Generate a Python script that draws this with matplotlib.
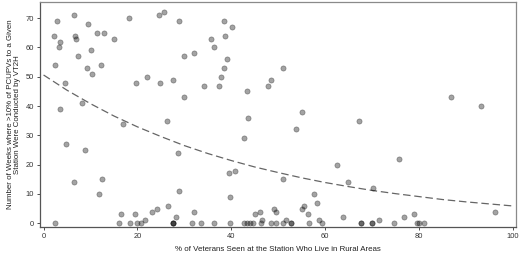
import matplotlib.pyplot as plt

# percent of veterans in rural areas (x) and weeks with >10% VT2H visits (y)
rural_pct = [
    2.3, 2.8, 3.6, 3.3, 2.4, 4.6, 3.4, 6.5, 6.6, 7.0, 7.4, 8.1, 9.5, 10.1, 9.3,
    10.3, 11.4, 12.9, 12.2, 14.9, 16.9, 18.1, 19.6, 22.0, 24.5, 25.7, 24.7, 27.5,
    26.4, 28.9, 38.4, 40.2, 38.7, 35.7, 36.3, 29.9, 32.0, 39.0, 38.4, 37.9, 34.1,
    37.3, 50.9, 48.4, 47.8, 43.3, 29.9, 55.1, 43.5, 53.7, 67.2, 86.7, 93.1,
    4.8, 8.8, 6.5, 12.5, 11.8, 28.6, 42.8, 28.8, 39.4, 40.8, 39.7, 50.9, 62.4,
    64.9, 70.2, 75.7, 57.5, 58.3, 96.2,
    55.5, 55.1, 56.3, 58.7, 59.3, 56.5, 63.7, 2.4, 16.0, 16.4, 18.5, 19.4, 19.8,
    20.8, 21.6, 23.2, 24.1, 26.5, 28.2, 27.6, 27.6, 27.6, 31.7, 32.1, 33.5, 36.3,
    39.7, 42.8, 43.4, 44.0, 44.6, 45.0, 46.2, 46.5, 46.3, 48.5, 49.0, 49.5, 49.5,
    51.0, 51.6, 52.7, 52.7, 67.7, 67.7, 69.9, 69.9, 71.5, 74.6, 76.8, 79.0, 79.6,
    80.0, 81.0,
]
weeks = [
    64, 69, 62, 60, 54, 48, 39, 71, 64, 63, 57, 41, 68, 59, 53,
    51, 65, 65, 54, 63, 34, 70, 48, 50, 71, 72, 48, 49,
    35, 69, 69, 67, 64, 63, 60, 57, 58, 56, 53, 50, 47,
    47, 53, 49, 47, 45, 43, 38, 36, 32, 35, 43, 40,
    27, 25, 14, 15, 10, 24, 29, 11, 17, 18, 9, 15, 20,
    14, 12, 22, 10, 7, 4,
    6, 5, 3, 1, 0, 0, 2, 0, 0, 3, 0, 3, 0,
    0, 1, 4, 5, 6, 2, 0, 0, 0, 0, 4, 0, 0,
    0, 0, 0, 0, 0, 3, 4, 1, 0, 0, 5, 4, 0,
    0, 1, 0, 0, 0, 0, 0, 0, 1, 0, 2, 3, 0,
    0, 0,
]

# fitted trend curve
trend_x = [0, 5, 10, 15, 20, 25, 30, 35, 40, 45, 50, 55, 60, 65, 70, 75, 80, 85, 90, 95, 100]
trend_y = [50.6, 45.4, 40.8, 36.6, 32.9, 29.6, 26.5, 23.8, 21.4, 19.2, 17.3, 15.5, 13.9,
           12.5, 11.2, 10.1, 9.1, 8.1, 7.3, 6.6, 5.9]

xticks = [0, 20, 40, 60, 80, 100]
yticks = [0, 10, 20, 30, 40, 50, 60, 70]

plt.rcParams['font.family'] = ['Liberation Sans', 'DejaVu Sans']
fig = plt.figure(figsize=(5.2, 2.54), dpi=100)
ax = fig.add_axes([0.077, 0.106, 0.915, 0.886])

ax.scatter(rural_pct, weeks, s=14, c='black', alpha=0.36, edgecolors='black',
           linewidths=0.5, zorder=3)
ax.plot(trend_x, trend_y, color='#666666', lw=0.9, dashes=(6, 3), zorder=2)

ax.set_xlim(-0.75, 100.6)
ax.set_ylim(-1.3, 75.5)
ax.set_xticks(xticks)
ax.set_yticks(yticks)
ax.tick_params(labelsize=5.4, length=2.5, width=0.6, pad=2, colors='#333333')

for s in ax.spines.values():
    s.set_color('#8a8a8a')
    s.set_linewidth(0.9)
ax.spines['bottom'].set_color('#555555')
ax.spines['left'].set_color('#555555')

ax.set_xlabel('% of Veterans Seen at the Station Who Live in Rural Areas',
              fontsize=5.7, labelpad=4, color='#222222')
ax.set_ylabel('Number of Weeks where >10% of PCUPVs to a Given\nStation Were Conducted by VT2H',
              fontsize=5.7, labelpad=3, color='#222222', linespacing=1.1)

fig.savefig('out.png', dpi=100)
